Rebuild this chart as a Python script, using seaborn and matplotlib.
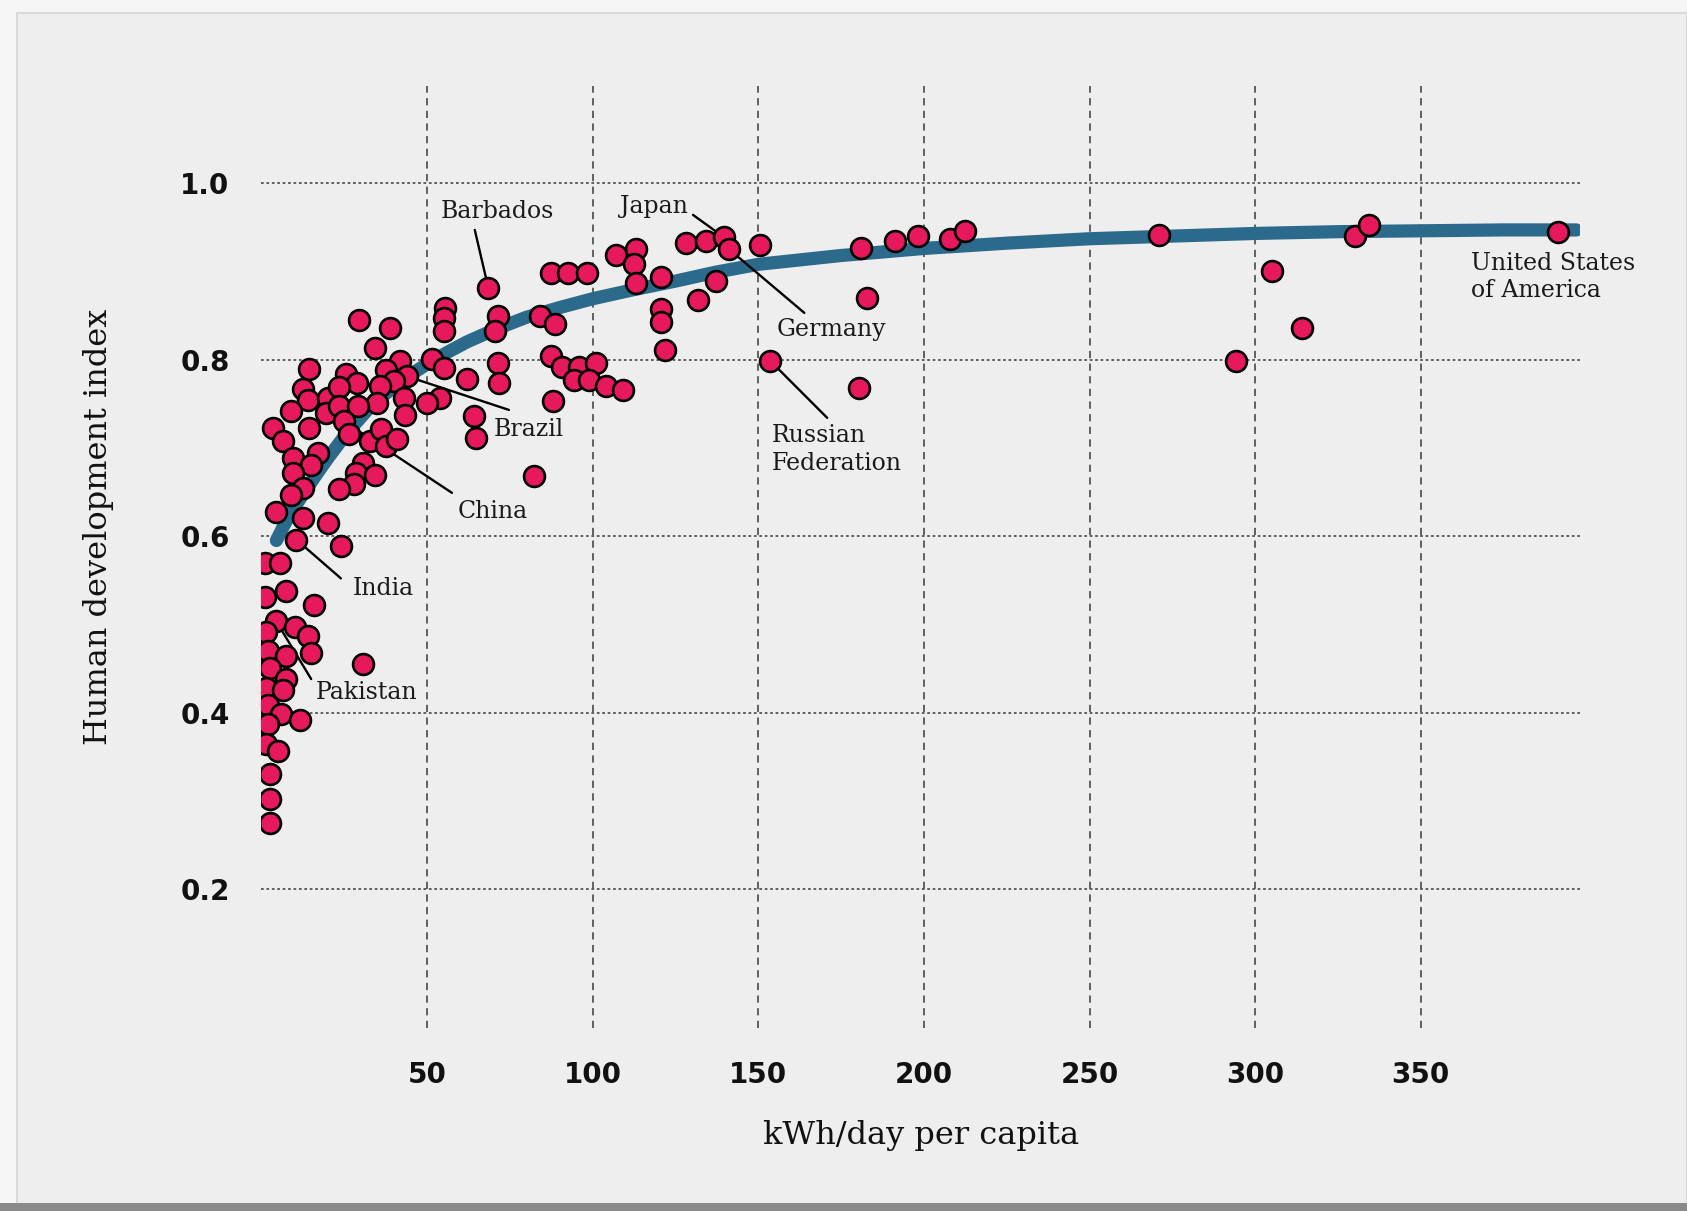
import pandas as pd
import matplotlib.pyplot as plt
import seaborn as sns
from matplotlib.patches import Rectangle

# Energy use (kWh/day per capita) vs Human development index
kwh = [1.0, 5.5, 1.0, 7.5, 16.0, 4.5, 1.5, 10.0, 14.0, 2.0, 7.5, 15.0, 2.5, 7.5,
       1.5, 6.5, 2.0, 6.0, 11.5, 2.0, 1.5, 5.0, 2.5, 2.5, 2.5, 30.5, 24.0, 10.5,
       20.2, 12.5, 4.5, 82.2,
       29.5, 38.8, 34.2, 41.8, 37.5, 44.0, 40.0, 35.8, 34.8, 43.0, 43.2, 51.5,
       55.0, 62.0, 54.0, 50.0, 64.2, 64.8, 55.5, 55.0, 55.0, 14.2, 12.5, 14.0,
       9.0, 20.0, 19.5, 25.5, 28.8, 23.5, 23.5, 29.0, 25.0, 26.5, 14.2, 3.5,
       6.5, 17.0, 9.5, 15.0, 9.5, 12.5, 8.8, 32.8, 36.2, 37.5, 41.0, 30.5,
       28.5, 34.2, 28.0, 23.5,
       68.5, 71.5, 70.5, 84.0, 88.5, 71.3, 71.8, 87.4, 92.5, 98.3, 87.4, 90.8,
       96.0, 101.1, 94.3, 98.9, 104.0, 109.2, 87.9, 106.9, 113.2, 112.6, 113.2,
       120.7, 120.7, 120.7, 121.8, 128.2, 134.3, 139.5, 141.2, 137.3, 131.8,
       150.6,
       153.5, 181.0, 182.8, 180.4, 191.3, 198.3, 207.9, 212.5, 271.0, 305.1,
       314.2, 294.3, 330.1, 334.4, 391.3]
hdi = [0.570, 0.570, 0.531, 0.538, 0.522, 0.504, 0.491, 0.497, 0.487, 0.470,
       0.464, 0.468, 0.451, 0.438, 0.428, 0.425, 0.408, 0.398, 0.391, 0.387,
       0.364, 0.356, 0.330, 0.302, 0.275, 0.455, 0.589, 0.596, 0.615, 0.621,
       0.627, 0.668,
       0.845, 0.836, 0.813, 0.799, 0.788, 0.781, 0.776, 0.770, 0.751, 0.756,
       0.737, 0.801, 0.790, 0.778, 0.756, 0.751, 0.736, 0.711, 0.859, 0.847,
       0.832, 0.789, 0.767, 0.754, 0.742, 0.756, 0.739, 0.784, 0.773, 0.769,
       0.747, 0.747, 0.730, 0.716, 0.722, 0.722, 0.708, 0.694, 0.688, 0.680,
       0.672, 0.655, 0.647, 0.708, 0.721, 0.702, 0.710, 0.683, 0.672, 0.669,
       0.659, 0.653,
       0.881, 0.849, 0.833, 0.850, 0.840, 0.796, 0.774, 0.898, 0.898, 0.898,
       0.804, 0.792, 0.792, 0.796, 0.777, 0.777, 0.770, 0.766, 0.753, 0.919,
       0.925, 0.908, 0.887, 0.894, 0.857, 0.843, 0.811, 0.932, 0.935, 0.939,
       0.925, 0.889, 0.868, 0.930,
       0.799, 0.926, 0.870, 0.768, 0.935, 0.940, 0.937, 0.946, 0.941, 0.900,
       0.836, 0.799, 0.940, 0.953, 0.945]

# trend curve
curve_x = [4.5, 6.5, 9, 13, 17, 20, 24, 28, 32, 36, 40, 45, 50, 56, 62, 71, 80,
           90, 100, 112, 125, 137, 150, 175, 200, 225, 250, 275, 300, 325, 350,
           375, 397]
curve_y = [0.595, 0.610, 0.627, 0.650, 0.672, 0.688, 0.708, 0.726, 0.743, 0.757,
           0.769, 0.783, 0.795, 0.808, 0.820, 0.835, 0.848, 0.859, 0.869, 0.879,
           0.889, 0.899, 0.908, 0.918, 0.926, 0.932, 0.937, 0.940, 0.943, 0.945,
           0.946, 0.947, 0.947]

y_ticks = [0.2, 0.4, 0.6, 0.8, 1.0]
x_ticks = [50, 100, 150, 200, 250, 300, 350]

df = pd.DataFrame({'kwh': kwh, 'hdi': hdi})
trend = pd.DataFrame({'kwh': curve_x, 'hdi': curve_y})

sns.set_theme(style='white')
plt.rcParams['font.family'] = ['DejaVu Serif']

bg = '#eeeeee'
fig = plt.figure(figsize=(16.87, 12.11), dpi=100)
fig.patch.set_facecolor('#f6f6f6')
# page-like frame
fig.add_artist(Rectangle((0.010, 0.0), 0.99, 0.989, transform=fig.transFigure,
                         facecolor=bg, edgecolor='#d9d9d9', lw=1.5, zorder=-5))
fig.add_artist(Rectangle((0.0, 0.0), 1.0, 0.007, transform=fig.transFigure,
                         facecolor='#8a8a8a', edgecolor='none', zorder=-4))

ax = fig.add_axes([0.155, 0.1515, 0.7814, 0.7774])
ax.set_facecolor('none')

sns.lineplot(data=trend, x='kwh', y='hdi', ax=ax, color='#2c6a8b', lw=9.5,
             sort=False, estimator=None, solid_capstyle='round',
             solid_joinstyle='round', zorder=2)
sns.scatterplot(data=df, x='kwh', y='hdi', ax=ax, color='#e5195c',
                edgecolor='black', linewidth=1.9, s=225, zorder=4)

ax.set_xlim(0, 398)
ax.set_ylim(0.043, 1.11)
ax.set_xticks(x_ticks)
ax.set_xticklabels([str(v) for v in x_ticks])
ax.set_yticks(y_ticks)
ax.set_yticklabels([f'{v:.1f}' for v in y_ticks])

ax.grid(axis='y', color='#555555', lw=1.3, linestyle=(0, (1.5, 1.5)))
ax.grid(axis='x', color='#555555', lw=1.3, linestyle=(0, (4, 3)))
ax.set_axisbelow(True)
sns.despine(ax=ax, left=True, bottom=True)
ax.tick_params(length=0, labelsize=20, colors='#111111')
ax.tick_params(axis='x', pad=24)
ax.tick_params(axis='y', pad=23)
for lab in ax.get_xticklabels() + ax.get_yticklabels():
    lab.set_fontfamily('DejaVu Sans')
    lab.set_fontweight('bold')

ax.set_xlabel('kWh/day per capita', fontsize=23, color='#111111')
ax.set_ylabel('Human development index', fontsize=23, color='#111111')
ax.xaxis.set_label_coords(0.5, -0.098)
ax.yaxis.set_label_coords(-0.112, 0.532)

# leader lines and country labels
leaders = [
    ((64.4, 0.947), (68.5, 0.881)),
    ((130.3, 0.964), (137.3, 0.945)),
    ((163.9, 0.853), (141.2, 0.925)),
    ((170.8, 0.734), (153.5, 0.799)),
    ((74.7, 0.743), (44.0, 0.781)),
    ((57.5, 0.649), (25.0, 0.730)),
    ((24.0, 0.552), (10.5, 0.596)),
    ((15.0, 0.438), (5.0, 0.500)),
]
for start, end in leaders:
    ax.annotate('', xy=end, xytext=start,
                arrowprops=dict(arrowstyle='-', color='black', lw=1.7,
                                shrinkA=0, shrinkB=0), zorder=3)

lab_kw = dict(fontsize=17, color='#1a1a1a', zorder=5)
ax.text(71.3, 0.968, 'Barbados', ha='center', va='center', **lab_kw)
ax.text(118.4, 0.974, 'Japan', ha='center', va='center', **lab_kw)
ax.text(172, 0.834, 'Germany', ha='center', va='center', **lab_kw)
ax.text(154, 0.727, 'Russian\nFederation', ha='left', va='top',
        linespacing=1.25, **lab_kw)
ax.text(70.1, 0.721, 'Brazil', ha='left', va='center', **lab_kw)
ax.text(59.2, 0.628, 'China', ha='left', va='center', **lab_kw)
ax.text(27.5, 0.541, 'India', ha='left', va='center', **lab_kw)
ax.text(16.5, 0.423, 'Pakistan', ha='left', va='center', **lab_kw)
ax.text(365.3, 0.922, 'United States\nof America', ha='left', va='top',
        linespacing=1.25, **lab_kw)

plt.savefig('out.png', dpi=100, facecolor=fig.get_facecolor())
